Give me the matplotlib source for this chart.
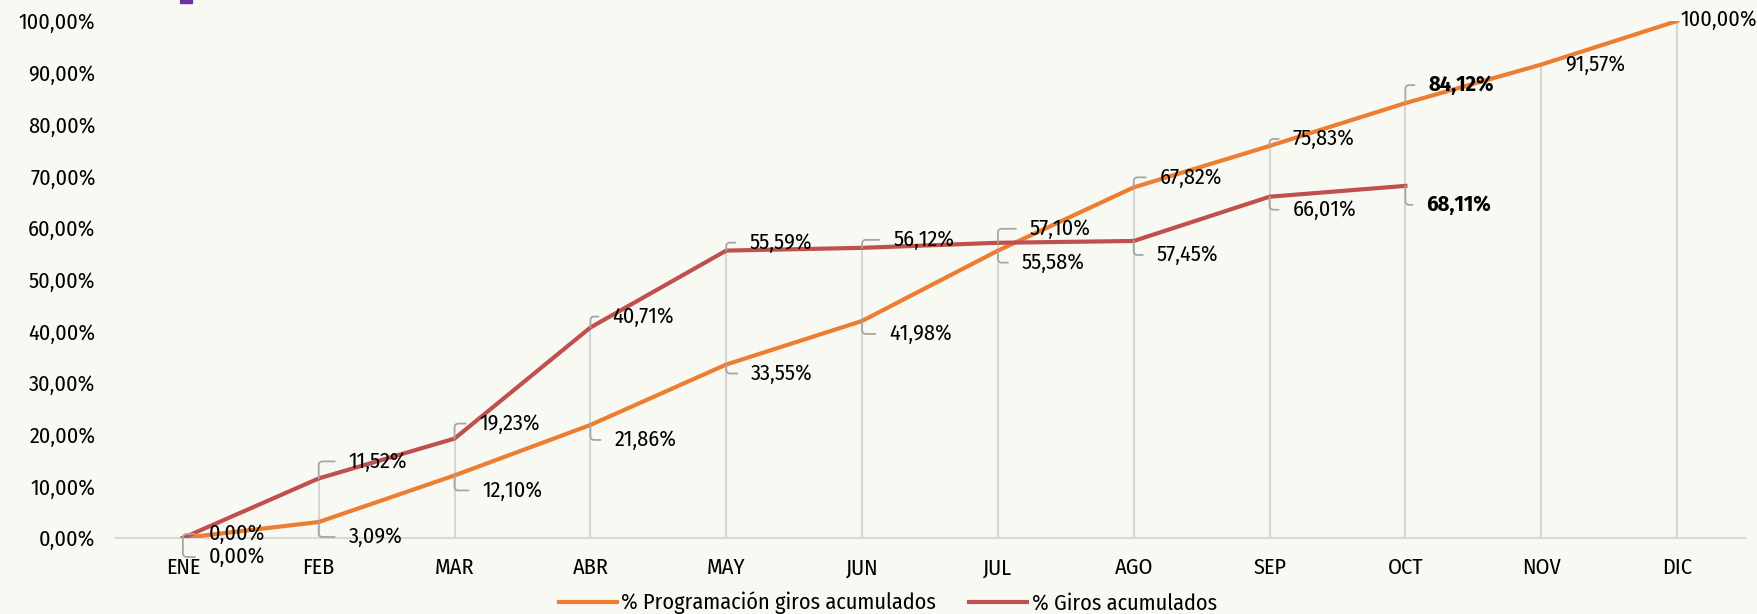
import matplotlib.pyplot as plt
import numpy as np
from matplotlib.patches import Rectangle

meses = ['ENE', 'FEB', 'MAR', 'ABR', 'MAY', 'JUN', 'JUL', 'AGO', 'SEP', 'OCT', 'NOV', 'DIC']
programacion = [0.00, 3.09, 12.10, 21.86, 33.55, 41.98, 55.58, 67.82, 75.83, 84.12, 91.57, 100.00]
giros = [0.00, 11.52, 19.23, 40.71, 55.59, 56.12, 57.10, 57.45, 66.01, 68.11]

naranja = '#ED7D31'
rojo = '#C0504D'
fondo = '#F9F9F4'

plt.rcParams['font.family'] = ['Fira Sans Condensed', 'PT Sans Narrow',
                               'IBM Plex Sans Condensed', 'DejaVu Sans']
fs = 16

fig = plt.figure(figsize=(17.58, 6.14), dpi=100, facecolor=fondo)
ax = fig.add_axes([0.0654, 0.1238, 0.9272, 0.842])
ax.set_facecolor(fondo)

x = np.arange(len(meses))
xg = np.arange(len(giros))

# líneas de caída
tope = [max(programacion[i], giros[i]) if i < len(giros) else programacion[i] for i in range(len(meses))]
ax.vlines(x, 0, tope, color='#D6D6D6', lw=1.5, zorder=1)

ax.plot(x, programacion, color=naranja, lw=3, label='% Programación giros acumulados', zorder=3)
ax.plot(xg, giros, color=rojo, lw=3, label='% Giros acumulados', zorder=3)

def fmt(v):
    return f'{v:.2f}'.replace('.', ',') + '%'

# desplazamientos de etiquetas en pixeles (dx, dy)
off_prog = [(26, -19), (30, -15), (28, -15), (24, -15), (25, -9), (27, -13),
            (24, -12), (26, 10), (23, 7), (23, 18), (24, 0), (3, 1)]
off_giros = [(26, 4), (30, 17), (25, 15), (22, 11), (23, 8), (31, 8),
             (32, 14), (23, -14), (23, -13), (21, -19)]
sin_guia = {10, 11}

def etiquetas(xs, vals, offs):
    for i, (xi, v, (dx, dy)) in enumerate(zip(xs, vals, offs)):
        peso = 'bold' if meses[i] == 'OCT' else 'normal'
        kw = {}
        if i not in sin_guia:
            kw['arrowprops'] = dict(arrowstyle='-', color='#A6A6A6', lw=1.3,
                                    connectionstyle='angle,angleA=0,angleB=90,rad=4',
                                    relpos=(0, 0.5), shrinkA=8, shrinkB=0)
        ax.annotate(fmt(v), (xi, v), xytext=(dx, dy), textcoords='offset pixels',
                    ha='left', va='center', fontsize=fs, fontweight=peso,
                    color='black', zorder=4, **kw)

etiquetas(x, programacion, off_prog)
etiquetas(xg, giros, off_giros)

ax.set_xlim(-0.5, 11.5)
ax.set_ylim(0, 100)
ax.set_xticks(x)
ax.set_xticklabels(meses)
ax.set_yticks(np.arange(0, 101, 10))
ax.set_yticklabels([fmt(v) for v in np.arange(0, 101, 10)])
ax.tick_params(axis='both', length=0, labelsize=fs)
ax.tick_params(axis='x', pad=14)
ax.tick_params(axis='y', pad=14)
for s in ['top', 'right', 'left']:
    ax.spines[s].set_visible(False)
ax.spines['bottom'].set_color('#D9D9D9')
ax.spines['bottom'].set_linewidth(1.5)

fig.legend(loc='center', bbox_to_anchor=(0.505, 0.018), ncol=2, frameon=False,
           fontsize=fs, handlelength=2.6, columnspacing=1.5, handletextpad=0.2)

# marca morada superior
fig.patches.append(Rectangle((180 / 1758, 1 - 3 / 614), 12 / 1758, 3 / 614,
                             transform=fig.transFigure, color='#7030A0'))

fig.savefig('out.png', dpi=100, facecolor=fondo)
